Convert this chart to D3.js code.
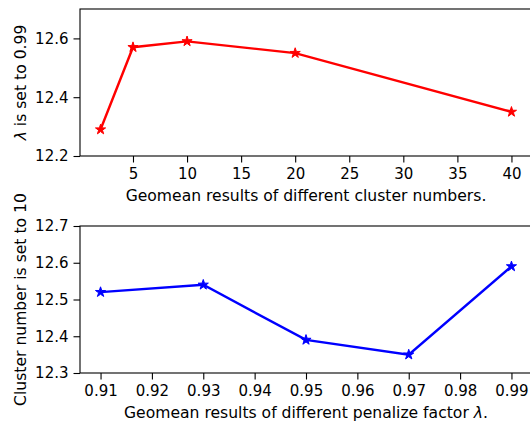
<!DOCTYPE html>
<html>
<head>
<meta charset="utf-8">
<script src="https://cdn.jsdelivr.net/npm/d3@7"></script>
<style>
  body { margin: 0; background: #fff; }
  svg text { font-family: "DejaVu Sans"; }
  .tick text { font-size: 15px; fill: #000; }
  .tick line { stroke: #000; stroke-width: 1.1; }
  .domain { display: none; }
</style>
</head>
<body>
<div id="chart"></div>
<script>
var svgWidth = 530;
var svgHeight = 424;

// top panel: cluster numbers
var clusterNumbers = [2, 5, 10, 20, 40];
var clusterGeomean = [12.29, 12.57, 12.59, 12.55, 12.35];
var clusterTicksX = [5, 10, 15, 20, 25, 30, 35, 40];
var clusterTicksY = [12.2, 12.4, 12.6];

// bottom panel: penalize factor
var lambdas = [0.91, 0.93, 0.95, 0.97, 0.99];
var lambdaGeomean = [12.52, 12.54, 12.39, 12.35, 12.59];
var lambdaTicksX = [0.91, 0.92, 0.93, 0.94, 0.95, 0.96, 0.97, 0.98, 0.99];
var lambdaTicksY = [12.3, 12.4, 12.5, 12.6, 12.7];

var svg = d3.select("#chart")
    .append("svg")
    .attr("width", svgWidth)
    .attr("height", svgHeight);

function drawPanel(opt) {
    var x = d3.scaleLinear().domain(opt.xDomain).range([opt.left, opt.right]);
    var y = d3.scaleLinear().domain(opt.yDomain).range([opt.bottom, opt.top]);

    var g = svg.append("g");

    g.append("g")
        .attr("transform", `translate(0, ${opt.bottom})`)
        .call(d3.axisBottom(x).tickValues(opt.xTicks).tickFormat(opt.xFormat)
            .tickSizeInner(6.5).tickSizeOuter(0).tickPadding(5.5))
        .attr("font-family", "DejaVu Sans");

    g.append("g")
        .attr("transform", `translate(${opt.left}, 0)`)
        .call(d3.axisLeft(y).tickValues(opt.yTicks).tickFormat(d3.format(".1f"))
            .tickSizeInner(6.5).tickSizeOuter(0).tickPadding(5))
        .attr("font-family", "DejaVu Sans");

    // frame
    g.append("rect")
        .attr("x", opt.left)
        .attr("y", opt.top)
        .attr("width", opt.right - opt.left)
        .attr("height", opt.bottom - opt.top)
        .attr("fill", "none")
        .attr("stroke", "#000")
        .attr("stroke-width", 1.1);

    var pts = opt.xs.map((d, i) => [d, opt.ys[i]]);

    g.append("path")
        .datum(pts)
        .attr("fill", "none")
        .attr("stroke", opt.color)
        .attr("stroke-width", 2.4)
        .attr("d", d3.line().x(d => x(d[0])).y(d => y(d[1])));

    g.selectAll(".marker")
        .data(pts)
        .enter()
        .append("path")
        .attr("class", "marker")
        .attr("transform", d => `translate(${x(d[0])}, ${y(d[1])})`)
        .attr("d", d3.symbol().type(d3.symbolStar).size(32))
        .attr("fill", opt.color)
        .attr("stroke", opt.color)
        .attr("stroke-width", 1);

    var xl = g.append("text")
        .attr("x", (opt.left + opt.right) / 2)
        .attr("y", opt.bottom + opt.xLabelGap)
        .attr("text-anchor", "middle")
        .attr("font-size", 15.6)
        .text(opt.xLabel);
    if (opt.xLabelTail) {
        xl.append("tspan").attr("font-style", "italic").text(opt.xLabelTail[0]);
        xl.append("tspan").text(opt.xLabelTail[1]);
    }

    var yl = g.append("text")
        .attr("transform", `translate(26, ${(opt.top + opt.bottom) / 2}) rotate(-90)`)
        .attr("text-anchor", "middle")
        .attr("font-size", 15.6);
    if (opt.yLabelHead) {
        yl.append("tspan").attr("font-style", "italic").text(opt.yLabelHead);
    }
    yl.append("tspan").text(opt.yLabel);
}

drawPanel({
    left: 80, right: 532, top: 9, bottom: 156,
    xDomain: [0.1, 41.9], yDomain: [12.2, 12.7],
    xTicks: clusterTicksX, yTicks: clusterTicksY,
    xFormat: d3.format("d"),
    xs: clusterNumbers, ys: clusterGeomean,
    color: "#ff0000",
    xLabelGap: 44.5,
    xLabel: "Geomean results of different cluster numbers.",
    yLabelHead: "λ", yLabel: " is set to 0.99"
});

drawPanel({
    left: 80, right: 532, top: 226, bottom: 373,
    xDomain: [0.906, 0.994], yDomain: [12.3, 12.7],
    xTicks: lambdaTicksX, yTicks: lambdaTicksY,
    xFormat: d3.format(".2f"),
    xs: lambdas, ys: lambdaGeomean,
    color: "#0000ff",
    xLabelGap: 45.3,
    xLabel: "Geomean results of different penalize factor ",
    xLabelTail: ["λ", "."],
    yLabel: "Cluster number is set to 10"
});
</script>
</body>
</html>
